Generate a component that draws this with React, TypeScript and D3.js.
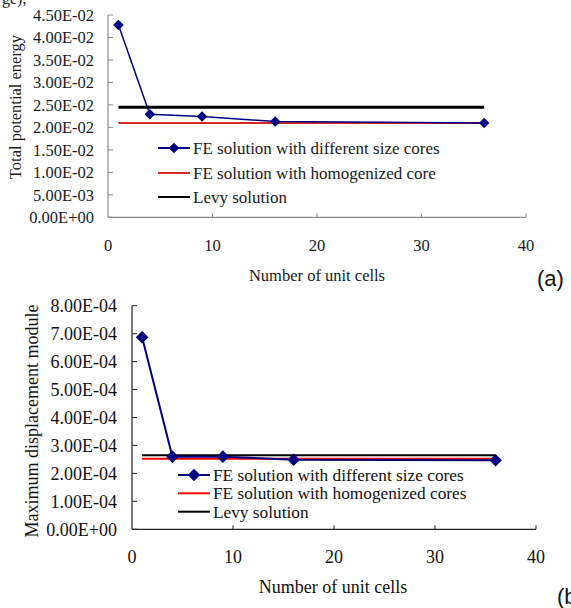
import { useEffect, useRef } from "react";
import * as d3 from "d3";

// number of unit cells along the x axis
const cells = [1, 4, 9, 16, 36];
const lineSpan = [1, 36];

// (a) total potential energy
const energyFE = [0.0428, 0.0229, 0.0224, 0.0213, 0.021];
const energyHomog = 0.021;
const energyLevy = 0.0245;
const energyTicks = [0, 0.005, 0.01, 0.015, 0.02, 0.025, 0.03, 0.035, 0.04, 0.045];
const energyLabels = ["0.00E+00", "5.00E-03", "1.00E-02", "1.50E-02", "2.00E-02", "2.50E-02", "3.00E-02", "3.50E-02", "4.00E-02", "4.50E-02"];

// (b) maximum displacement module
const dispFE = [6.87e-4, 2.6e-4, 2.6e-4, 2.49e-4, 2.47e-4];
const dispHomog = 2.52e-4;
const dispLevy = 2.65e-4;
const dispTicks = [0, 1e-4, 2e-4, 3e-4, 4e-4, 5e-4, 6e-4, 7e-4, 8e-4];
const dispLabels = ["0.00E+00", "1.00E-04", "2.00E-04", "3.00E-04", "4.00E-04", "5.00E-04", "6.00E-04", "7.00E-04", "8.00E-04"];

const xTicks = [0, 10, 20, 30, 40];

const legendA = ["FE solution with different size cores", "FE solution with homogenized core", "Levy solution"];
const legendB = ["FE solution with different size cores", "FE solution with homogenized cores", "Levy solution"];

const FONT = "'Liberation Serif', 'Times New Roman', serif";

function drawPanel(svg, cfg) {
  const x = d3.scaleLinear().domain([0, 40]).range(cfg.xRange);
  const y = d3.scaleLinear().domain(cfg.yDomain).range(cfg.yRange);
  const g = svg.append("g");

  // axes with inward ticks
  g.append("line")
    .attr("x1", x(0)).attr("x2", x(0))
    .attr("y1", y(cfg.yDomain[1])).attr("y2", y(0))
    .attr("stroke", cfg.axisColor).attr("stroke-width", 1.2);
  g.append("line")
    .attr("x1", x(0)).attr("x2", x(40))
    .attr("y1", y(0)).attr("y2", y(0))
    .attr("stroke", cfg.axisColor).attr("stroke-width", 1.2);

  cfg.yTicks.forEach((t, i) => {
    g.append("line")
      .attr("x1", x(0)).attr("x2", x(0) + 5)
      .attr("y1", y(t)).attr("y2", y(t))
      .attr("stroke", cfg.axisColor);
    g.append("text")
      .attr("x", x(0) - cfg.labelGap)
      .attr("y", y(t))
      .attr("dy", "0.35em")
      .attr("text-anchor", "end")
      .style("font-family", FONT)
      .style("font-size", cfg.fontSize + "px")
      .attr("fill", cfg.textColor)
      .text(cfg.yLabels[i]);
  });

  xTicks.forEach(t => {
    if (t > 0) {
      g.append("line")
        .attr("x1", x(t)).attr("x2", x(t))
        .attr("y1", y(0)).attr("y2", y(0) - 4)
        .attr("stroke", cfg.axisColor);
    }
    g.append("text")
      .attr("x", x(t))
      .attr("y", cfg.xLabelY)
      .attr("dy", "0.35em")
      .attr("text-anchor", "middle")
      .style("font-family", FONT)
      .style("font-size", cfg.fontSize + "px")
      .attr("fill", cfg.textColor)
      .text(t);
  });

  // axis titles
  g.append("text")
    .attr("x", cfg.xTitle[0]).attr("y", cfg.xTitle[1])
    .attr("dy", "0.35em")
    .attr("text-anchor", "middle")
    .style("font-family", FONT)
    .style("font-size", cfg.fontSize + "px")
    .attr("fill", cfg.textColor)
    .text("Number of unit cells");
  g.append("text")
    .attr("transform", `translate(${cfg.yTitle[0]},${cfg.yTitle[1]}) rotate(-90)`)
    .attr("dy", "0.35em")
    .attr("text-anchor", "middle")
    .style("font-family", FONT)
    .style("font-size", cfg.fontSize + "px")
    .attr("fill", cfg.textColor)
    .text(cfg.yTitleText);

  // horizontal reference lines
  g.append("line")
    .attr("x1", x(lineSpan[0])).attr("x2", x(lineSpan[1]))
    .attr("y1", y(cfg.levy)).attr("y2", y(cfg.levy))
    .attr("stroke", "#000").attr("stroke-width", cfg.levyWidth);
  g.append("line")
    .attr("x1", x(lineSpan[0])).attr("x2", x(lineSpan[1]))
    .attr("y1", y(cfg.homog)).attr("y2", y(cfg.homog))
    .attr("stroke", cfg.red).attr("stroke-width", 2);

  // FE series
  const pts = cells.map((c, i) => [c, cfg.fe[i]]);
  const line = d3.line().x(d => x(d[0])).y(d => y(d[1]));
  g.append("path")
    .attr("d", line(pts))
    .attr("fill", "none")
    .attr("stroke", "#000080")
    .attr("stroke-width", cfg.blueWidth);
  const diamond = d3.symbol().type(d3.symbolDiamond2).size(cfg.markerSize);
  g.selectAll(".pt")
    .data(pts)
    .enter().append("path")
    .attr("transform", d => `translate(${x(d[0])},${y(d[1])})`)
    .attr("d", diamond)
    .attr("fill", "#000080");

  // legend
  const lg = cfg.legend;
  lg.items.forEach((label, i) => {
    const ry = lg.rows[i];
    const color = i === 0 ? "#000080" : i === 1 ? cfg.red : "#000";
    g.append("line")
      .attr("x1", lg.x0).attr("x2", lg.x1)
      .attr("y1", ry).attr("y2", ry)
      .attr("stroke", color).attr("stroke-width", 2);
    if (i === 0) {
      g.append("path")
        .attr("transform", `translate(${(lg.x0 + lg.x1) / 2},${ry})`)
        .attr("d", diamond)
        .attr("fill", "#000080");
    }
    g.append("text")
      .attr("x", lg.tx).attr("y", ry)
      .attr("dy", "0.35em")
      .style("font-family", FONT)
      .style("font-size", lg.fontSize + "px")
      .attr("fill", cfg.textColor)
      .text(label);
  });

  g.append("text")
    .attr("x", cfg.tag[0]).attr("y", cfg.tag[1])
    .style("font-family", "'Liberation Sans', Arial, sans-serif")
    .style("font-size", "22px")
    .attr("fill", "#111")
    .text(cfg.tagText);
}

export default function App() {
  const ref = useRef(null);

  useEffect(() => {
    const svg = d3.select(ref.current);
    svg.selectAll("*").remove();

    // cut-off caption text at the very top
    svg.append("text")
      .attr("x", 2).attr("y", 4)
      .style("font-family", FONT)
      .style("font-size", "16px")
      .attr("fill", "#222")
      .text("ge),");

    drawPanel(svg, {
      xRange: [108, 526],
      yDomain: [0, 0.045],
      yRange: [217.3, 15],
      yTicks: energyTicks,
      yLabels: energyLabels,
      fe: energyFE,
      homog: energyHomog,
      levy: energyLevy,
      fontSize: 16.5,
      labelGap: 14,
      xLabelY: 245,
      xTitle: [317, 275],
      yTitle: [15, 107],
      yTitleText: "Total potential energy",
      axisColor: "#8a8a8a",
      textColor: "#1a1a1a",
      red: "#d42a2a",
      levyWidth: 3,
      blueWidth: 1.5,
      markerSize: 70,
      legend: { items: legendA, x0: 158, x1: 190, tx: 193, rows: [148, 173, 197], fontSize: 17 },
      tag: [537, 286],
      tagText: "(a)",
    });

    drawPanel(svg, {
      xRange: [132, 536],
      yDomain: [0, 8e-4],
      yRange: [529.3, 305.7],
      yTicks: dispTicks,
      yLabels: dispLabels,
      fe: dispFE,
      homog: dispHomog,
      levy: dispLevy,
      fontSize: 18,
      labelGap: 15,
      xLabelY: 557,
      xTitle: [333, 587],
      yTitle: [32, 421],
      yTitleText: "Maximum displacement module",
      axisColor: "#222",
      textColor: "#111",
      red: "#ff0000",
      levyWidth: 2,
      blueWidth: 2,
      markerSize: 100,
      legend: { items: legendB, x0: 178, x1: 210, tx: 213, rows: [475, 493.3, 511.7], fontSize: 17.3 },
      tag: [557, 604],
      tagText: "(b)",
    });
  }, []);

  return (
    <svg
      ref={ref}
      width={571}
      height={608}
      style={{ position: "absolute", left: 0, top: 0, background: "#fff" }}
    />
  );
}
